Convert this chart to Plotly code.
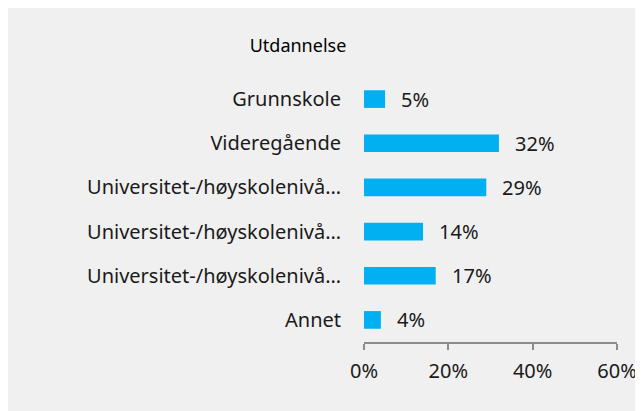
import plotly.graph_objects as go

categories = ["Grunnskole", "Videregående", "Universitet-/høyskolenivå…",
              "Universitet-/høyskolenivå…", "Universitet-/høyskolenivå…", "Annet"]
values = [0.05, 0.32, 0.29, 0.14, 0.17, 0.04]
value_labels = ["5%", "32%", "29%", "14%", "17%", "4%"]
tick_vals = [0, 0.2, 0.4, 0.6]
tick_text = ["0%", "20%", "40%", "60%"]
title_text = "Utdannelse"

# unique y keys so duplicate labels stay separate rows
ykeys = [f"c{i}" for i in range(len(categories))]

FONT = "Noto Sans"
BAR = "#00B0F0"
BG = "#F0F0F0"
TXT = "#1A1A1A"

fig = go.Figure(go.Bar(
    x=values, y=ykeys, orientation="h", width=0.4,
    marker=dict(color=BAR, line=dict(width=0)),
    hoverinfo="skip",
))

for k, v, t in zip(ykeys, values, value_labels):
    fig.add_annotation(x=v, y=k, text=t, showarrow=False, xanchor="left",
                       xshift=14, font=dict(family=FONT, size=20, color=TXT))

fig.update_layout(
    width=643, height=411,
    margin=dict(l=356, r=34, t=69, b=77, autoexpand=False),
    paper_bgcolor=BG, plot_bgcolor=BG,
    showlegend=False,
    title=dict(text=title_text, x=290 / 643, xanchor="center", xref="container",
               y=1 - 38 / 411, yanchor="middle", yref="container",
               font=dict(family=FONT, size=18, color="black")),
    font=dict(family=FONT, color=TXT),
)

fig.update_xaxes(range=[0, 0.6], tickvals=tick_vals, ticktext=tick_text,
                 showgrid=False, zeroline=False, showline=True, linecolor="#8C8C8C",
                 linewidth=1.5, ticks="outside", ticklen=6, tickcolor="#8C8C8C",
                 tickwidth=1.5, ticklabelstandoff=4,
                 tickfont=dict(family=FONT, size=20, color=TXT),
                 fixedrange=True)
fig.update_yaxes(categoryorder="array", categoryarray=ykeys, autorange="reversed",
                 tickvals=ykeys, ticktext=categories, showgrid=False, zeroline=False,
                 showline=False, ticks="", ticklabelstandoff=22,
                 tickfont=dict(family=FONT, size=20, color=TXT), fixedrange=True)

fig.write_html("out.html")
